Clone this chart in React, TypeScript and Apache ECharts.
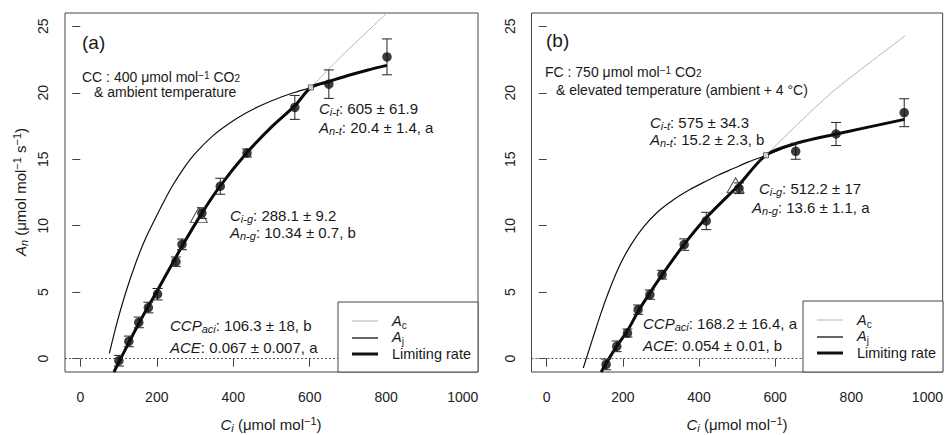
import React, { useEffect, useRef } from 'react';
import * as echarts from 'echarts';

// ---------- data ----------
const xTicks = [0, 200, 400, 600, 800, 1000];
const yTicks = [0, 5, 10, 15, 20, 25];

// Panel (a) CC
const ciA = [101, 127, 153, 178, 202, 250, 266, 318, 366, 436, 561, 650, 802];
const anA = [-0.15, 1.3, 2.73, 3.85, 4.85, 7.3, 8.6, 10.95, 12.97, 15.47, 18.9, 20.65, 22.7];
const seA = [0.4, 0.4, 0.4, 0.4, 0.43, 0.35, 0.4, 0.4, 0.6, 0.3, 0.9, 1.07, 1.35];
const ajCiA = [76, 95, 118, 145, 170, 197, 220, 240, 270, 300, 345, 390, 432, 475, 519, 560, 603, 650, 700, 750, 802];
const ajAnA = [0.4, 2.6, 4.9, 7.2, 9.0, 10.6, 11.9, 12.95, 14.3, 15.42, 16.72, 17.7, 18.46, 19.08, 19.61, 20.02, 20.4, 20.85, 21.3, 21.7, 22.06];
const acCiA = [603, 667, 728, 802];
const acAnA = [20.4, 22.3, 24.0, 26.0];
const limCiA = [88, 101, 153, 205, 266, 318, 366, 436, 501, 562, 603, 650, 700, 750, 802];
const limAnA = [-1.0, -0.25, 2.65, 5.3, 8.45, 10.95, 13.0, 15.5, 17.45, 19.05, 20.4, 20.85, 21.3, 21.7, 22.06];
const transA = [603, 20.4];
const triA = [310, 10.8];

// Panel (b) FC
const ciB = [156, 184, 212, 240, 271, 303, 361, 419, 505, 654, 760, 939];
const anB = [-0.43, 0.93, 1.93, 3.69, 4.82, 6.32, 8.58, 10.36, 12.82, 15.6, 16.9, 18.5];
const seB = [0.4, 0.4, 0.3, 0.35, 0.35, 0.33, 0.43, 0.65, 0.4, 0.6, 0.87, 1.05];
const ajCiB = [96, 120, 141, 165, 193, 222, 254, 290, 333, 375, 415, 450, 490, 530, 576, 656, 761, 940];
const ajAnB = [-0.7, 1.45, 3.3, 5.2, 7.1, 8.6, 9.9, 11.0, 11.95, 12.7, 13.3, 13.8, 14.3, 14.8, 15.3, 16.2, 16.9, 18.0];
const acCiB = [576, 665, 752, 850, 942];
const acAnB = [15.3, 17.8, 20.1, 22.3, 24.3];
const limCiB = [143, 156, 184, 212, 240, 271, 303, 361, 419, 504, 576, 656, 761, 940];
const limAnB = [-1.0, -0.35, 0.95, 2.1, 3.55, 4.95, 6.3, 8.6, 10.6, 13.05, 15.3, 16.2, 16.9, 18.0];
const transB = [576, 15.3];
const triB = [496, 13.05];

// ---------- styling ----------
const FF = '"Liberation Sans", Arial, Helvetica, sans-serif';
const TC = '#1a1a1a';

const mkRich = (size: number, lh = 18) => ({
  n: { fontSize: size, fontFamily: FF, color: TC, lineHeight: lh },
  i: { fontSize: size, fontFamily: FF, fontStyle: 'italic', color: TC, lineHeight: lh },
  s: { fontSize: Math.round(size * 0.7), fontFamily: FF, fontStyle: 'italic', color: TC, lineHeight: 10, verticalAlign: 'bottom' },
  sn: { fontSize: Math.round(size * 0.7), fontFamily: FF, color: TC, lineHeight: 8, verticalAlign: 'bottom' },
  p: { fontSize: Math.round(size * 0.7), fontFamily: FF, color: TC, lineHeight: 8, verticalAlign: 'top' },
});

const txt = (x: number, y: number, text: string, size: number, extra: any = {}, lh = 18) => ({
  type: 'text',
  x,
  y,
  z: 100,
  ...extra,
  style: {
    text,
    rich: mkRich(size, lh),
    align: extra.align || 'left',
    verticalAlign: 'middle',
    fill: TC,
    font: `${size}px ${FF}`,
  },
});

const legend = (x0: number, y0: number, x1: number, y1: number) => {
  const lx0 = x0 + 14, lx1 = x0 + 40, tx = x0 + 54;
  return [
    { type: 'rect', z: 90, shape: { x: x0, y: y0, width: x1 - x0, height: y1 - y0 }, style: { fill: '#fff', stroke: '#444', lineWidth: 1 } },
    { type: 'line', z: 100, shape: { x1: lx0, y1: y0 + 19, x2: lx1, y2: y0 + 19 }, style: { stroke: '#b5b5b5', lineWidth: 1 } },
    { type: 'line', z: 100, shape: { x1: lx0, y1: y0 + 36, x2: lx1, y2: y0 + 36 }, style: { stroke: '#111', lineWidth: 1.3 } },
    { type: 'line', z: 100, shape: { x1: lx0, y1: y0 + 52, x2: lx1, y2: y0 + 52 }, style: { stroke: '#111', lineWidth: 3 } },
    txt(tx, y0 + 19, '{i|A}{sn|c}', 14.5),
    txt(tx, y0 + 35, '{i|A}{sn|j}', 14.5),
    txt(tx, y0 + 52, '{n|Limiting rate}', 14.5),
  ];
};

const pairs = (xs: number[], ys: number[]) => xs.map((x, i) => [x, ys[i]]);

const errRender = (params: any, api: any) => {
  const x = api.value(0), y = api.value(1), e = api.value(2);
  const t = api.coord([x, y + e]);
  const b = api.coord([x, y - e]);
  const w = 5;
  const st = { stroke: '#222', lineWidth: 1 };
  return {
    type: 'group',
    children: [
      { type: 'line', shape: { x1: t[0], y1: t[1], x2: b[0], y2: b[1] }, style: st },
      { type: 'line', shape: { x1: t[0] - w, y1: t[1], x2: t[0] + w, y2: t[1] }, style: st },
      { type: 'line', shape: { x1: b[0] - w, y1: b[1], x2: b[0] + w, y2: b[1] }, style: st },
    ],
  };
};

const lineBase = { type: 'line', showSymbol: false, smooth: 0.3 };

const panelSeries = (idx: number, ci: number[], an: number[], se: number[], ajC: number[], ajA: number[], acC: number[], acA: number[], limC: number[], limA: number[], trans: number[], tri: number[]) => [
  {
    ...lineBase, xAxisIndex: idx, yAxisIndex: idx, z: 2,
    data: pairs(acC, acA), lineStyle: { color: '#b5b5b5', width: 1 },
    markLine: {
      silent: true, symbol: 'none', label: { show: false },
      lineStyle: { type: [2, 2], color: '#555', width: 1 },
      data: [{ yAxis: 0 }],
    },
  },
  {
    ...lineBase, xAxisIndex: idx, yAxisIndex: idx, z: 2,
    data: pairs(ajC, ajA), lineStyle: { color: '#111', width: 1.2 },
  },
  {
    ...lineBase, xAxisIndex: idx, yAxisIndex: idx, z: 3,
    data: pairs(limC, limA), lineStyle: { color: '#0a0a0a', width: 3 },
  },
  {
    type: 'scatter', xAxisIndex: idx, yAxisIndex: idx, z: 4,
    symbol: 'triangle', symbolSize: [17, 15],
    itemStyle: { color: 'rgba(0,0,0,0)', borderColor: '#222', borderWidth: 1 },
    data: [tri],
  },
  {
    type: 'custom', xAxisIndex: idx, yAxisIndex: idx, z: 5,
    renderItem: errRender,
    encode: { x: 0, y: 1 },
    data: ci.map((c, i) => [c, an[i], se[i]]),
  },
  {
    type: 'scatter', xAxisIndex: idx, yAxisIndex: idx, z: 6,
    symbol: 'circle', symbolSize: 9.5,
    itemStyle: { color: '#0d0d0d' },
    data: pairs(ci, an),
  },
  {
    type: 'scatter', xAxisIndex: idx, yAxisIndex: idx, z: 7,
    symbol: 'rect', symbolSize: 5,
    itemStyle: { color: '#fff', borderColor: '#333', borderWidth: 1 },
    data: [trans],
  },
];

const mkX = (idx: number) => ({
  type: 'value', gridIndex: idx, min: -40, max: 1040,
  axisLine: { show: false },
  splitLine: { show: false },
  axisTick: { show: true, length: 8, customValues: xTicks, lineStyle: { color: '#444' } },
  axisLabel: { customValues: xTicks, margin: 18, fontSize: 14, fontFamily: FF, color: '#222', formatter: (v: number) => String(v) },
});
const mkY = (idx: number) => ({
  type: 'value', gridIndex: idx, min: -1, max: 26,
  axisLine: { show: false },
  splitLine: { show: false },
  axisTick: { show: true, length: 8, customValues: yTicks, lineStyle: { color: '#444' } },
  axisLabel: { customValues: yTicks, rotate: 90, margin: 15, fontSize: 14, fontFamily: FF, color: '#222', formatter: (v: number) => String(v) },
});

export default function App() {
  const ref = useRef<HTMLDivElement>(null);
  useEffect(() => {
    if (!ref.current) return;
    const chart = echarts.init(ref.current, undefined, { renderer: 'svg' });
    const option: any = {
      animation: false,
      backgroundColor: '#fff',
      grid: [
        { left: 65, top: 13, width: 413, height: 359, show: true, borderColor: '#444', borderWidth: 1, backgroundColor: 'transparent' },
        { left: 531.5, top: 13, width: 411.5, height: 359, show: true, borderColor: '#444', borderWidth: 1, backgroundColor: 'transparent' },
      ],
      xAxis: [mkX(0), mkX(1)],
      yAxis: [mkY(0), mkY(1)],
      series: [
        ...panelSeries(0, ciA, anA, seA, ajCiA, ajAnA, acCiA, acAnA, limCiA, limAnA, transA, triA),
        ...panelSeries(1, ciB, anB, seB, ajCiB, ajAnB, acCiB, acAnB, limCiB, limAnB, transB, triB),
      ],
      graphic: [
        // panel (a)
        txt(82, 42, '{n|(a)}', 19, {}),
        txt(82, 77, '{n|CC : 400 μmol mol}{p|−1}{n| CO}{sn|2}', 14, {}, 13),
        txt(94, 92, '{n|& ambient temperature}', 14, {}, 13),
        txt(319, 108, '{i|C}{s|i-t}{n|: 605 ± 61.9}', 15),
        txt(319, 127, '{i|A}{s|n-t}{n|: 20.4 ± 1.4, a}', 15),
        txt(230, 215, '{i|C}{s|i-g}{n|: 288.1 ± 9.2}', 15),
        txt(230, 232, '{i|A}{s|n-g}{n|: 10.34 ± 0.7, b}', 15),
        txt(170, 325, '{i|CCP}{s|aci}{n|: 106.3 ± 18, b}', 15),
        txt(170, 347, '{i|ACE}{n|: 0.067 ± 0.007, a}', 15),
        ...legend(338, 302, 478, 372),
        // panel (b)
        txt(546, 40, '{n|(b)}', 19, {}),
        txt(545, 72, '{n|FC : 750 μmol mol}{p|−1}{n| CO}{sn|2}', 14, {}, 13),
        txt(556, 90, '{n|& elevated temperature (ambient + 4 °C)}', 14, {}, 13),
        txt(650, 122, '{i|C}{s|i-t}{n|: 575 ± 34.3}', 15),
        txt(650, 139, '{i|A}{s|n-t}{n|: 15.2 ± 2.3, b}', 15),
        txt(759, 188, '{i|C}{s|i-g}{n|: 512.2 ± 17}', 15),
        txt(752, 207, '{i|A}{s|n-g}{n|: 13.6 ± 1.1, a}', 15),
        txt(643, 323, '{i|CCP}{s|aci}{n|: 168.2 ± 16.4, a}', 15),
        txt(643, 345, '{i|ACE}{n|: 0.054 ± 0.01, b}', 15),
        ...legend(803, 301, 943, 372),
        // axis titles
        txt(271, 424, '{i|C}{s|i}{n| (μmol mol}{p|−1}{n|)}', 15, { align: 'center' }),
        txt(737, 424, '{i|C}{s|i}{n| (μmol mol}{p|−1}{n|)}', 15, { align: 'center' }),
        txt(20, 192, '{i|A}{s|n}{n| (μmol mol}{p|−1}{n| s}{p|−1}{n|)}', 15, { align: 'center', rotation: Math.PI / 2 }),
      ],
    };
    chart.setOption(option);
    return () => chart.dispose();
  }, []);
  return (
    <div
      ref={ref}
      style={{ position: 'absolute', left: 0, top: 0, width: 946, height: 435, background: '#fff' }}
    />
  );
}
